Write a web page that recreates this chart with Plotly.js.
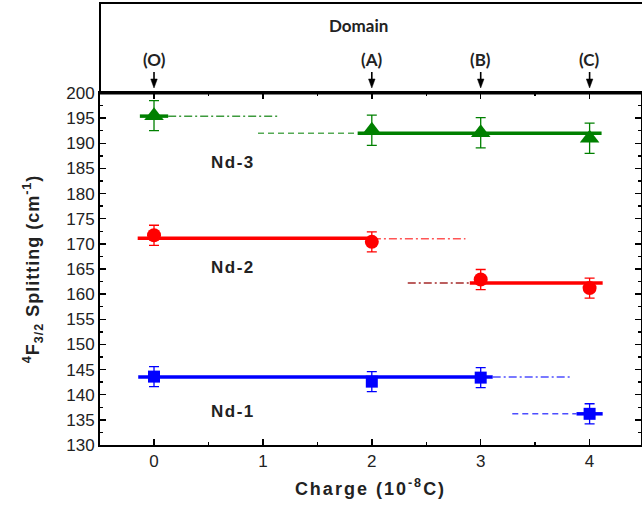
<!DOCTYPE html>
<html>
<head>
<meta charset="utf-8">
<script src="https://cdn.plot.ly/plotly-3.0.1.min.js"></script>
<style>
html,body{margin:0;padding:0;background:#fff;}
#chart{width:642px;height:510px;}
#chart .xtitle{letter-spacing:2px;}
#chart .ytitle{letter-spacing:1px;}
#chart .annotation-text.nd{letter-spacing:1.5px;}
</style>
</head>
<body>
<div id="chart"></div>
<script>
// ---- data ----
const charge = [0, 2, 3, 4];
const nd3 = [195.5, 192.6, 192.1, 191.0];
const nd3Err = [3, 3, 3, 3];
const nd2 = [171.7, 170.4, 162.9, 161.2];
const nd2Err = [2, 2, 2, 2];
const nd1 = [143.6, 142.6, 143.4, 136.2];
const nd1Err = [2, 2, 2, 2];

// fitted level segments: [x start, x end, level]
const nd3Solid = [[-0.13, 0.13, 195.4], [1.87, 4.11, 192.0]];
const nd3DashDot = [[0.13, 1.14, 195.4]];
const nd3Dash = [[0.955, 1.87, 192.0]];
const nd2Solid = [[-0.15, 2.01, 171.1], [2.9, 4.12, 162.2]];
const nd2DashDot = [[2.01, 2.86, 171.0]];
const nd2DashDot2 = [[2.33, 2.9, 162.2]];
const nd1Solid = [[-0.145, 3.11, 143.5], [3.88, 4.12, 136.2]];
const nd1DashDot = [[3.11, 3.83, 143.5]];
const nd1Dash = [[3.29, 3.88, 136.2]];

const domainX = [0, 2, 3, 4];
const domainLabels = ['(O)', '(A)', '(B)', '(C)'];
const seriesLabels = ['Nd-3', 'Nd-2', 'Nd-1'];
const seriesLabelY = [186.1, 165.2, 136.6];
const seriesLabelX = 0.725;

const xTicks = [0, 1, 2, 3, 4];
const yTicks = [130, 135, 140, 145, 150, 155, 160, 165, 170, 175, 180, 185, 190, 195, 200];

// ---- traces ----
const traces = [];
function segs(list, color, width, dash) {
  list.forEach(s => {
    traces.push({x: [s[0], s[1]], y: [s[2], s[2]], mode: 'lines', type: 'scatter',
      line: {color: color, width: width, dash: dash}, hoverinfo: 'skip', showlegend: false});
  });
}
segs(nd3DashDot, '#3d9a3d', 1.5, '8px,3px,2px,3px');
segs(nd3Dash, '#55aa55', 1.5, '6px,4px');
segs(nd3Solid, '#008000', 3.5, 'solid');
segs(nd2DashDot, '#ff5555', 1.5, '8px,3px,2px,3px');
segs(nd2DashDot2, '#a52a2a', 1.5, '8px,3px,2px,3px');
segs(nd2Solid, '#ff0000', 3.5, 'solid');
segs(nd1DashDot, '#4d4dff', 1.5, '8px,3px,2px,3px');
segs(nd1Dash, '#4d4dff', 1.5, '6px,4px');
segs(nd1Solid, '#0000ff', 3.5, 'solid');

function pts(y, err, color, symbol, size) {
  traces.push({x: charge, y: y, mode: 'markers', type: 'scatter', showlegend: false,
    marker: {color: color, symbol: symbol, size: size, line: {width: 0}},
    error_y: {type: 'data', array: err, visible: true, color: color, thickness: 1.3, width: 5}});
}
pts(nd3, nd3Err, '#008000', 'triangle-up', 17);
pts(nd2, nd2Err, '#ff0000', 'circle', 14);
pts(nd1, nd1Err, '#0000ff', 'square', 12);

// ---- annotations ----
const topFont = {family: 'Lato, Open Sans, sans-serif', size: 17, color: '#222'};
const annotations = [];
annotations.push({x: 1.88, xref: 'x', y: 1.193, yref: 'paper', yanchor: 'middle', text: '<b>Domain</b>',
  showarrow: false, font: topFont});
domainX.forEach((d, i) => {
  annotations.push({x: d, xref: 'x', y: 1.094, yref: 'paper', yanchor: 'middle', text: '<b>' + domainLabels[i] + '</b>',
    showarrow: false, font: topFont});
});
seriesLabels.forEach((s, i) => {
  annotations.push({x: seriesLabelX, y: seriesLabelY[i], xref: 'x', yref: 'y', yanchor: 'middle',
    text: '<b>' + s + '</b>', showarrow: false,
    font: {family: 'Liberation Sans, Arial, sans-serif', size: 17, color: '#222'}});
});

// ---- shapes: top box and domain arrows ----
const shapes = [
  {type: 'rect', xref: 'paper', yref: 'paper', x0: 0, x1: 1.01, y0: 1, y1: 1.2557,
    line: {color: '#000', width: 2}, fillcolor: 'rgba(0,0,0,0)'},
  {type: 'line', xref: 'paper', yref: 'paper', x0: 0, x1: 1.01, y0: 1, y1: 1,
    line: {color: '#000', width: 3}}
];
const hw = 0.03;
domainX.forEach(d => {
  shapes.push({type: 'line', xref: 'x', yref: 'paper', x0: d, x1: d, y0: 1.0597, y1: 1.03,
    line: {color: '#000', width: 1.6}});
  shapes.push({type: 'path', xref: 'x', yref: 'paper',
    path: 'M ' + (d - hw) + ',1.0398 L ' + (d + hw) + ',1.0398 L ' + d + ',1.0142 Z',
    fillcolor: '#000', line: {color: '#000', width: 0.5}});
});

const layout = {
  width: 642, height: 510,
  margin: {l: 100, r: 1, t: 93, b: 65},
  paper_bgcolor: '#fff', plot_bgcolor: '#fff',
  showlegend: false,
  font: {family: 'Liberation Sans, Arial, sans-serif', color: '#222'},
  xaxis: {
    range: [-0.496, 4.472], tickvals: xTicks, ticktext: xTicks.map(String),
    ticks: 'inside', ticklen: 6, tickwidth: 1.5, tickcolor: '#000',
    minor: {dtick: 0.5, ticks: 'inside', ticklen: 3, tickwidth: 1.5, tickcolor: '#000'},
    showline: true, linewidth: 2, linecolor: '#000', mirror: 'ticks',
    showgrid: false, zeroline: false,
    tickfont: {size: 17, color: '#222'},
    title: {text: '<b>Charge (10<sup>-8</sup>C)</b>', font: {size: 18, color: '#222'}, standoff: 12}
  },
  yaxis: {
    range: [130, 200], tickvals: yTicks, ticktext: yTicks.map(String),
    ticks: 'inside', ticklen: 6, tickwidth: 1.5, tickcolor: '#000',
    minor: {dtick: 2.5, ticks: 'inside', ticklen: 3, tickwidth: 1.5, tickcolor: '#000'},
    showline: true, linewidth: 2, linecolor: '#000', mirror: 'ticks',
    showgrid: false, zeroline: false,
    tickfont: {size: 17, color: '#222'},
    title: {text: '<b><sup>4</sup>F<sub>3/2</sub> Splitting (cm<sup>-1</sup>)</b>', font: {size: 18, color: '#222'}, standoff: 22}
  },
  shapes: shapes,
  annotations: annotations
};

Plotly.newPlot('chart', traces, layout, {displayModeBar: false, staticPlot: true}).then(gd => {
  gd.querySelectorAll('.annotation-text').forEach(t => {
    if (/Nd-/.test(t.textContent)) t.style.letterSpacing = '1.5px';
  });
});
</script>
</body>
</html>
